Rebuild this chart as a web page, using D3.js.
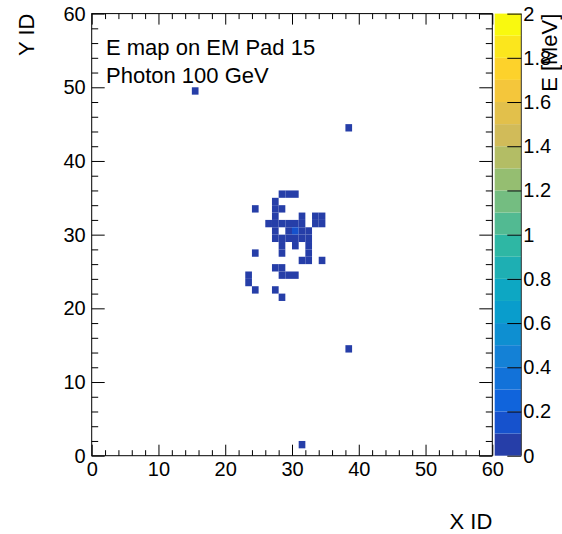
<!DOCTYPE html>
<html>
<head>
<meta charset="utf-8">
<script src="https://cdn.jsdelivr.net/npm/d3@7"></script>
<style>
html,body{margin:0;padding:0;background:#fff;}
svg{display:block;}
text{font-family:"Liberation Sans",Arial,Helvetica,sans-serif;fill:#000;}
</style>
</head>
<body>
<svg id="chart" width="562" height="534"></svg>
<script>
// ---- data ----
const titleLines = ["E map on EM Pad 15", "Photon 100 GeV"];
const xTitle = "X ID";
const yTitle = "Y ID";
const zTitle = "E [MeV]";
const xDomain = [0, 60];
const yDomain = [0, 60];
const zDomain = [0, 2];
const xMajorTicks = [0, 10, 20, 30, 40, 50, 60];
const yMajorTicks = [0, 10, 20, 30, 40, 50, 60];
const zTicks = [0, 0.2, 0.4, 0.6, 0.8, 1, 1.2, 1.4, 1.6, 1.8, 2];
// filled bins (lower-left bin edges) and energy
const cellX = [15, 38, 38, 31,
  28, 29, 30,
  27,
  24, 27, 28,
  27, 31, 33, 34,
  26, 27, 28, 29, 30, 31, 33, 34,
  27, 29, 30, 31, 32,
  27, 28, 29, 30, 31, 32,
  28, 30, 32,
  24, 28, 32,
  31, 32, 34,
  27, 28,
  23, 28, 29, 30,
  23,
  24, 27,
  28];
const cellY = [49, 44, 14, 1,
  35, 35, 35,
  34,
  33, 33, 33,
  32, 32, 32, 32,
  31, 31, 31, 31, 31, 31, 31, 31,
  30, 30, 30, 30, 30,
  29, 29, 29, 29, 29, 29,
  28, 28, 28,
  27, 27, 27,
  26, 26, 26,
  25, 25,
  24, 24, 24, 24,
  23,
  22, 22,
  21];
const cellE = [0.04, 0.05, 0.03, 0.04,
  0.05, 0.06, 0.04,
  0.05,
  0.03, 0.06, 0.05,
  0.07, 0.04, 0.05, 0.06,
  0.04, 0.08, 0.07, 0.09, 0.08, 0.05, 0.06, 0.04,
  0.07, 0.09, 0.15, 0.08, 0.06,
  0.06, 0.08, 0.09, 0.08, 0.07, 0.05,
  0.05, 0.07, 0.06,
  0.03, 0.06, 0.05,
  0.04, 0.05, 0.03,
  0.05, 0.06,
  0.04, 0.06, 0.05, 0.04,
  0.03,
  0.04, 0.03,
  0.04];

// ---- ROOT kBird palette ----
const birdStops = [0, 0.125, 0.25, 0.375, 0.5, 0.625, 0.75, 0.875, 1];
const birdR = [0.2082, 0.0592, 0.0780, 0.0232, 0.1802, 0.5301, 0.8186, 0.9956, 0.9764];
const birdG = [0.1664, 0.3599, 0.5041, 0.6419, 0.7178, 0.7492, 0.7328, 0.7862, 0.9832];
const birdB = [0.5293, 0.8684, 0.8385, 0.7914, 0.6425, 0.4662, 0.3499, 0.1968, 0.0539];
const NCOL = 255, NDIV = 20;
const palette = [];
for (let g = 1; g < birdStops.length; g++) {
  const n = Math.floor(NCOL * birdStops[g]) - Math.floor(NCOL * birdStops[g - 1]);
  for (let c = 0; c < n; c++) {
    const f = c / n;
    palette.push(d3.rgb(
      255 * (birdR[g - 1] + f * (birdR[g] - birdR[g - 1])),
      255 * (birdG[g - 1] + f * (birdG[g] - birdG[g - 1])),
      255 * (birdB[g - 1] + f * (birdB[g] - birdB[g - 1]))).formatHex());
  }
}
while (palette.length < NCOL) palette.push(d3.rgb(255*birdR[8],255*birdG[8],255*birdB[8]).formatHex());
function bandColor(k) {
  const idx = Math.min(NCOL - 1, Math.floor((k + 0.99) * NCOL / NDIV));
  return palette[idx];
}
function valueColor(v) {
  const k = Math.max(0, Math.min(NDIV - 1, Math.floor((v - zDomain[0]) / (zDomain[1] - zDomain[0]) * NDIV + 0.01)));
  return bandColor(k);
}

// ---- layout ----
const svg = d3.select("#chart");
const L = 91.7, R = 492.3, T = 13.6, B = 455.7;
const x = d3.scaleLinear().domain(xDomain).range([L, R]);
const y = d3.scaleLinear().domain(yDomain).range([B, T]);
const palL = 494.7, palR = 521.3;
const z = d3.scaleLinear().domain(zDomain).range([B, T]);

// cells
svg.append("g").selectAll("rect").data(cellX.map((cx, i) => ({cx, cy: cellY[i], e: cellE[i]})))
  .join("rect")
  .attr("x", d => x(d.cx))
  .attr("y", d => y(d.cy + 1))
  .attr("width", d => x(d.cx + 1) - x(d.cx))
  .attr("height", d => y(d.cy) - y(d.cy + 1))
  .attr("fill", d => valueColor(d.e));

// axes
const fs = 20;
function styleAxis(g) {
  g.select(".domain").remove();
  g.selectAll("line").attr("stroke", "#000").attr("stroke-width", 1);
  g.selectAll("text").style("font-size", fs + "px").attr("fill", "#000");
}
const xMinor = d3.range(xDomain[0], xDomain[1] + 0.001, 2).filter(v => !xMajorTicks.includes(v));
const yMinor = d3.range(yDomain[0], yDomain[1] + 0.001, 2).filter(v => !yMajorTicks.includes(v));

// bottom
svg.append("g").attr("transform", `translate(0,${B})`)
  .call(d3.axisBottom(x).tickValues(xMajorTicks).tickSize(-11).tickPadding(6).tickFormat(d3.format("d")))
  .call(styleAxis);
svg.append("g").attr("transform", `translate(0,${B})`)
  .call(d3.axisBottom(x).tickValues(xMinor).tickSize(-5.5).tickFormat(""))
  .call(styleAxis);
// top
svg.append("g").attr("transform", `translate(0,${T})`)
  .call(d3.axisTop(x).tickValues(xMajorTicks).tickSize(-11).tickFormat(""))
  .call(styleAxis);
svg.append("g").attr("transform", `translate(0,${T})`)
  .call(d3.axisTop(x).tickValues(xMinor).tickSize(-5.5).tickFormat(""))
  .call(styleAxis);
// left
svg.append("g").attr("transform", `translate(${L},0)`)
  .call(d3.axisLeft(y).tickValues(yMajorTicks).tickSize(-13).tickPadding(6).tickFormat(d3.format("d")))
  .call(styleAxis);
svg.append("g").attr("transform", `translate(${L},0)`)
  .call(d3.axisLeft(y).tickValues(yMinor).tickSize(-6.5).tickFormat(""))
  .call(styleAxis);
// right
svg.append("g").attr("transform", `translate(${R},0)`)
  .call(d3.axisRight(y).tickValues(yMajorTicks).tickSize(-13).tickFormat(""))
  .call(styleAxis);
svg.append("g").attr("transform", `translate(${R},0)`)
  .call(d3.axisRight(y).tickValues(yMinor).tickSize(-6.5).tickFormat(""))
  .call(styleAxis);

// frame
svg.append("rect").attr("x", L).attr("y", T).attr("width", R - L).attr("height", B - T)
  .attr("fill", "none").attr("stroke", "#000").attr("stroke-width", 1);

// palette
const bands = d3.range(NDIV);
svg.append("g").selectAll("rect").data(bands).join("rect")
  .attr("x", palL)
  .attr("y", k => z(zDomain[0] + (k + 1) * (zDomain[1] - zDomain[0]) / NDIV))
  .attr("width", palR - palL)
  .attr("height", k => z(zDomain[0] + k * (zDomain[1] - zDomain[0]) / NDIV) - z(zDomain[0] + (k + 1) * (zDomain[1] - zDomain[0]) / NDIV))
  .attr("fill", k => bandColor(k));
svg.append("line").attr("x1", palR).attr("x2", palR).attr("y1", T).attr("y2", B)
  .attr("stroke", "#333").attr("stroke-width", 1);
svg.append("g").attr("transform", `translate(${palR},0)`)
  .call(d3.axisRight(z).tickValues(zTicks).tickSize(-14).tickPadding(2).tickFormat(d => String(+d.toFixed(1))))
  .call(styleAxis);

// titles
const tg = svg.append("g");
tg.append("text").attr("x", 106).attr("y", 55).style("font-size", "22px").text(titleLines[0]);
tg.append("text").attr("x", 106).attr("y", 83).style("font-size", "22px").text(titleLines[1]);
svg.append("text").attr("x", R).attr("y", 529).attr("text-anchor", "end").style("font-size", "22px").text(xTitle);
svg.append("text").attr("transform", `translate(33.5,${T}) rotate(-90)`).attr("text-anchor", "end").style("font-size", "22px").text(yTitle);
svg.append("text").attr("transform", `translate(557,${T}) rotate(-90)`).attr("text-anchor", "end").style("font-size", "22px").text(zTitle);
</script>
</body>
</html>
